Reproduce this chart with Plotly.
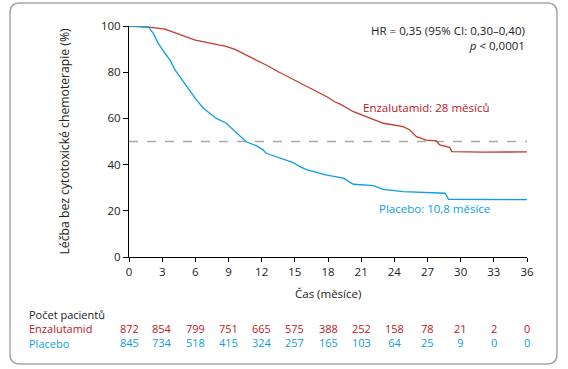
import plotly.graph_objects as go

# Enzalutamid Kaplan-Meier curve (months, % without chemotherapy)
enza_t = [0, 1, 2, 3.25, 4.5, 6, 8.1, 8.7, 9.6, 10.5, 11, 12.4, 13.5, 15.5, 16.7, 17.9, 18.6, 19.1, 20.3,
          21.5, 22.7, 23.0, 24.8, 25.4, 26.0, 26.9, 27.8, 28.1, 29.0, 29.2, 32, 36]
enza_v = [100, 99.8, 99.4, 98.6, 96.5, 93.9, 91.8, 91.3, 89.9, 87.7, 86.7, 83.1, 80.2, 75.2, 72.3, 69.4, 67.2, 66.2, 62.9,
          60.7, 58.6, 57.9, 56.4, 55.0, 52.1, 50.6, 50.3, 48.5, 47.5, 45.6, 45.4, 45.5]

# Placebo Kaplan-Meier curve
plac_t = [0, 1, 1.75, 2.2, 2.65, 3.25, 3.7, 4.16, 4.9, 6, 6.7, 7.9, 8.8, 9.7, 10.6, 11.5, 12.1, 12.4, 13.5,
          14.8, 15.5, 16.1, 17.9, 19.4, 20.3, 22.1, 23.0, 24.8, 28.6, 28.9, 36]
plac_v = [100, 99.9, 99.6, 96.8, 92.5, 88.2, 85.3, 81.0, 75.9, 68.7, 64.5, 60.0, 57.9, 53.8, 49.9, 48.2, 46.5, 44.9, 43.0,
          41.0, 39.0, 37.7, 35.4, 34.1, 31.5, 30.9, 29.3, 28.3, 27.6, 25.0, 24.8]

x_ticks = [0, 3, 6, 9, 12, 15, 18, 21, 24, 27, 30, 33, 36]
y_ticks = [0, 20, 40, 60, 80, 100]
risk_enza = [872, 854, 799, 751, 665, 575, 388, 252, 158, 78, 21, 2, 0]
risk_plac = [845, 734, 518, 415, 324, 257, 165, 103, 64, 25, 9, 0, 0]
median_level = [50, 50]
median_span = [0, 36]

RED_LINE = "#c23b2a"
RED_TXT = "#c0161c"
BLUE = "#0aa0e0"
FONT = "Open Sans"

fig = go.Figure()
fig.add_trace(go.Scatter(x=median_span, y=median_level, mode="lines",
                         line=dict(color="#a9a9a9", width=1.5, dash="dash"), hoverinfo="skip"))
fig.add_trace(go.Scatter(x=enza_t, y=enza_v, mode="lines", line=dict(color=RED_LINE, width=1.3),
                         cliponaxis=False))
fig.add_trace(go.Scatter(x=plac_t, y=plac_v, mode="lines", line=dict(color=BLUE, width=1.3),
                         cliponaxis=False))

L, R, T, B = 129, 527, 26, 257
W, H = R - L, B - T
def px(p):
    return (p - L) / W
def py(p):
    return (B - p) / H

# rounded frame
l, r, t, b = px(10), px(557), py(3), py(364)
rx, ry = 10 / W, 10 / H
path = (f"M {l+rx},{t} L {r-rx},{t} Q {r},{t} {r},{t-ry} L {r},{b+ry} Q {r},{b} {r-rx},{b} "
        f"L {l+rx},{b} Q {l},{b} {l},{b+ry} L {l},{t-ry} Q {l},{t} {l+rx},{t} Z")
fig.add_shape(type="path", path=path, xref="paper", yref="paper",
              line=dict(color="#a6a6a6", width=1.5), fillcolor="rgba(0,0,0,0)", layer="below")

ann = []
ann.append(dict(x=1.0, y=py(37.5), xref="paper", yref="paper",
                text="HR = 0,35 (95% CI: 0,30–0,40)<br><i>p</i> < 0,0001", align="right",
                xanchor="right", yanchor="middle", showarrow=False, font=dict(size=11.5, color="#222")))
ann.append(dict(x=px(361), y=py(107), xref="paper", yref="paper", text="Enzalutamid: 28 měsíců",
                xanchor="left", yanchor="middle", showarrow=False, font=dict(size=11.5, color=RED_TXT)))
ann.append(dict(x=px(377), y=py(208.5), xref="paper", yref="paper", text="Placebo: 10,8 měsíce",
                xanchor="left", yanchor="middle", showarrow=False, font=dict(size=11.5, color=BLUE)))
ann.append(dict(x=px(64), y=0.5, xref="paper", yref="paper", text="Léčba bez cytotoxické chemoterapie (%)",
                textangle=-90, xanchor="center", yanchor="middle", showarrow=False,
                font=dict(size=12.2, color="#222")))
ann.append(dict(x=0.5, y=py(293), xref="paper", yref="paper", text="Čas (měsíce)",
                xanchor="center", yanchor="middle", showarrow=False, font=dict(size=11.5, color="#222")))
ann.append(dict(x=px(27), y=py(328.5), xref="paper", yref="paper",
                text=(f"Počet pacientů<br><span style='color:{RED_TXT}'>Enzalutamid</span>"
                      f"<br><span style='color:{BLUE}'>Placebo</span>"),
                align="left", xanchor="left", yanchor="middle", showarrow=False,
                font=dict(size=11, color="#222")))
for xv, a, p in zip(x_ticks, risk_enza, risk_plac):
    ann.append(dict(x=xv, y=py(335), xref="x", yref="paper",
                    text=f"<span style='color:{RED_TXT}'>{a}</span><br><span style='color:{BLUE}'>{p}</span>",
                    xanchor="center", yanchor="middle", showarrow=False, font=dict(size=11)))

fig.update_layout(
    width=568, height=369,
    margin=dict(l=L, r=568 - R, t=T, b=369 - B),
    paper_bgcolor="white", plot_bgcolor="white",
    showlegend=False,
    font=dict(family=FONT, size=11.5, color="#222"),
    annotations=ann,
    xaxis=dict(range=[0, 36], tickvals=x_ticks, showgrid=False, zeroline=False,
               showline=True, linecolor="black", linewidth=1, ticks="outside", ticklen=4,
               tickcolor="black", tickfont=dict(size=11.5, color="#222")),
    yaxis=dict(range=[0, 100], tickvals=y_ticks, showgrid=False, zeroline=False,
               showline=True, linecolor="black", linewidth=1, ticks="outside", ticklen=5,
               tickcolor="black", tickfont=dict(size=11.5, color="#222")),
)

fig.write_html("out.html", config={"displayModeBar": False},
               post_script="document.body.style.margin='0';document.body.style.overflow='hidden';")
